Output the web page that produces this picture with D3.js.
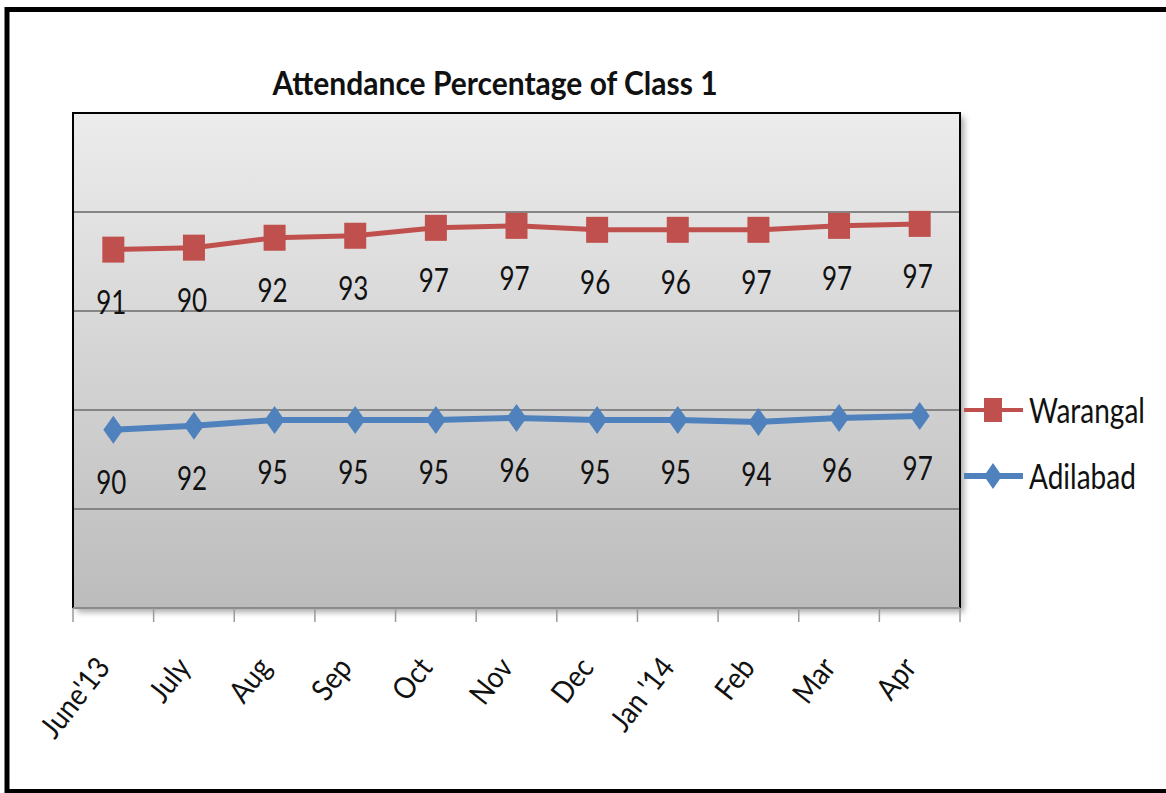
<!DOCTYPE html>
<html>
<head>
<meta charset="utf-8">
<script src="https://cdn.jsdelivr.net/npm/d3@7"></script>
<style>
  body { margin: 0; background: #fff; }
  svg { display: block; }
  text { font-family: Lato, "Open Sans", sans-serif; fill: #111; }
</style>
</head>
<body>
<svg width="1166" height="793"></svg>
<script>
const months = ["June'13", "July", "Aug", "Sep", "Oct", "Nov", "Dec", "Jan '14", "Feb", "Mar", "Apr"];
const adilabad = [90, 92, 95, 95, 95, 96, 95, 95, 94, 96, 97];
const warangal = [91, 90, 92, 93, 97, 97, 96, 96, 97, 97, 97];
const gridValues = [50, 100, 150, 200];
const seriesNames = ["Adilabad", "Warangal"];
const colors = { Adilabad: "#4F81BD", Warangal: "#C0504D" };

const svg = d3.select('svg');
const stretch = 1.25; // text in the picture is drawn tall

// outer frame
svg.append('rect')
    .attr('x', 7).attr('y', 9.5)
    .attr('width', 1200).attr('height', 782)
    .attr('fill', 'none').attr('stroke', '#000').attr('stroke-width', 5);

const plot = { left: 73, top: 113, right: 960, bottom: 608 };

const x = d3.scaleBand().domain(months).range([plot.left, plot.right]).padding(0);
const y = d3.scaleLinear().domain([0, 250]).range([plot.bottom, plot.top]);

// stacked values
const table = months.map((m, i) => ({ month: m, Adilabad: adilabad[i], Warangal: warangal[i] }));
const stacked = d3.stack().keys(seriesNames)(table);

const defs = svg.append('defs');
const grad = defs.append('linearGradient').attr('id', 'bg')
    .attr('x1', 0).attr('y1', 0).attr('x2', 0).attr('y2', 1);
grad.append('stop').attr('offset', '0%').attr('stop-color', '#ececec');
grad.append('stop').attr('offset', '100%').attr('stop-color', '#bcbcbc');

const shadow = defs.append('filter').attr('id', 'shadow')
    .attr('x', '-5%').attr('y', '-5%').attr('width', '115%').attr('height', '115%');
shadow.append('feDropShadow').attr('dx', 4).attr('dy', 4)
    .attr('stdDeviation', 3).attr('flood-color', '#000').attr('flood-opacity', 0.35);

// plot area
svg.append('rect')
    .attr('x', plot.left).attr('y', plot.top)
    .attr('width', plot.right - plot.left).attr('height', plot.bottom - plot.top)
    .attr('fill', 'url(#bg)').attr('filter', 'url(#shadow)');

// gridlines
svg.append('g').selectAll('line').data(gridValues).join('line')
    .attr('x1', plot.left).attr('x2', plot.right)
    .attr('y1', d => y(d)).attr('y2', d => y(d))
    .attr('stroke', '#858585').attr('stroke-width', 2);

// plot border (left, top, right) and bottom axis line
svg.append('path')
    .attr('d', `M${plot.left},${plot.bottom}V${plot.top}H${plot.right}V${plot.bottom}`)
    .attr('fill', 'none').attr('stroke', '#000').attr('stroke-width', 2);
svg.append('line')
    .attr('x1', plot.left).attr('x2', plot.right)
    .attr('y1', plot.bottom).attr('y2', plot.bottom)
    .attr('stroke', '#8a8a8a').attr('stroke-width', 2);

// category ticks at band edges
const edges = months.map(m => x(m)).concat([plot.right]);
svg.append('g').selectAll('line').data(edges).join('line')
    .attr('x1', d => d).attr('x2', d => d)
    .attr('y1', plot.bottom).attr('y2', plot.bottom + 14)
    .attr('stroke', '#9a9a9a').attr('stroke-width', 1.5);

// x labels
svg.append('g').selectAll('text').data(months).join('text')
    .attr('transform', d => `translate(${x(d) + x.bandwidth() / 2 - 2},${plot.bottom + 60}) rotate(-52) scale(1,1.12)`)
    .attr('text-anchor', 'end')
    .style('font-size', '27px')
    .text(d => d);

const cx = d => x(d.data.month) + x.bandwidth() / 2;

const line = d3.line().x(cx).y(d => y(d[1]));

const diamond = 'M0,-14L10,0L0,14L-10,0Z';

stacked.forEach(s => {
    const c = colors[s.key];
    const g = svg.append('g');
    g.append('path').datum(s)
        .attr('d', line)
        .attr('fill', 'none').attr('stroke', c)
        .attr('stroke-width', s.key === 'Adilabad' ? 6 : 5);
    if (s.key === 'Warangal') {
        g.selectAll('rect').data(s).join('rect')
            .attr('x', d => cx(d) - 11).attr('y', d => y(d[1]) - 13)
            .attr('width', 22).attr('height', 26)
            .attr('fill', c);
    } else {
        g.selectAll('path.m').data(s).join('path')
            .attr('class', 'm')
            .attr('transform', d => `translate(${cx(d)},${y(d[1])})`)
            .attr('d', diamond).attr('fill', c);
    }
    // value labels
    g.selectAll('text').data(s).join('text')
        .attr('transform', d => `translate(${cx(d) - 2},${y(d[1]) + 64}) scale(1,${stretch})`)
        .attr('text-anchor', 'middle')
        .style('font-size', '26px')
        .text(d => d[1] - d[0]);
});

// title
svg.append('text')
    .attr('transform', `translate(495,95) scale(1,1.05)`)
    .attr('text-anchor', 'middle')
    .style('font-size', '30px').style('font-weight', 'bold')
    .text('Attendance Percentage of Class 1');

// legend
const legendItems = [
    { name: 'Warangal', y: 410 },
    { name: 'Adilabad', y: 476 }
];
const lg = svg.append('g');
legendItems.forEach(it => {
    const c = colors[it.name];
    lg.append('line')
        .attr('x1', 964).attr('x2', 1023).attr('y1', it.y).attr('y2', it.y)
        .attr('stroke', c).attr('stroke-width', it.name === 'Adilabad' ? 6 : 4);
    if (it.name === 'Warangal') {
        lg.append('rect').attr('x', 984).attr('y', it.y - 12)
            .attr('width', 18).attr('height', 24).attr('fill', c);
    } else {
        lg.append('path').attr('transform', `translate(993,${it.y})`)
            .attr('d', 'M0,-13L9,0L0,13L-9,0Z').attr('fill', c);
    }
    lg.append('text')
        .attr('transform', `translate(1029,${it.y + 13}) scale(1,${stretch})`)
        .style('font-size', '28px')
        .text(it.name);
});
</script>
</body>
</html>
